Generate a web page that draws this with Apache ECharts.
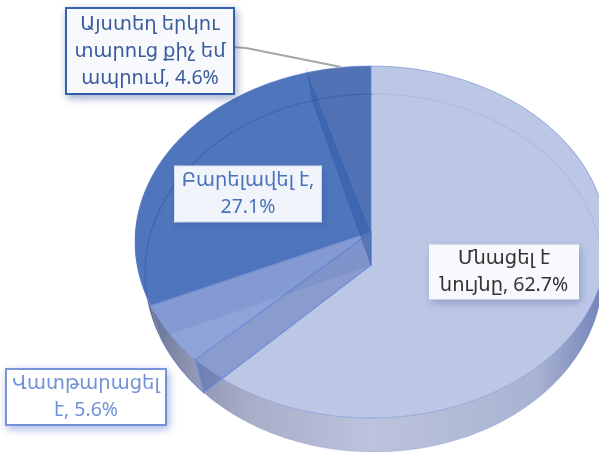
<!DOCTYPE html>
<html>
<head>
<meta charset="utf-8">
<style>
  html, body { margin: 0; padding: 0; background: #fff; }
  #chart { width: 599px; height: 452px; }
</style>
<script src="https://cdn.jsdelivr.net/npm/echarts@6/dist/echarts.min.js"></script>
</head>
<body>
<div id="chart"></div>
<script>
// clockwise from 12 o'clock
const categories = ["Մնացել է\nնույնը", "Վատթարացել\nէ", "Բարելավել է", "Այստեղ երկու\nտարուց քիչ եմ\nապրում"];
const shares = [62.7, 5.6, 27.1, 4.6];
const separators = [", ", ", ", ",\n", ", "];

const sliceColors = ["#bcc7e5", "#8ea3d8", "#4f76bc", "#5173b6"];
const arcColors = ["rgba(90,120,200,0.14)", "rgba(70,100,180,0.5)", "rgba(40,70,140,0.35)", "rgba(40,70,140,0.35)"];
const labelBoxes = [
    { x: 504, y: 272, w: 150, h: 55, color: "#333333", bg: "#f8f9fc", border: "#f8f9fc", bw: 0, shadow: "rgba(60,80,140,0.35)" },
    { x: 86, y: 397, w: 158, h: 54, color: "#7191d8", bg: "#ffffff", border: "#7a98dc", bw: 2, shadow: "rgba(90,120,200,0.45)" },
    { x: 248, y: 194, w: 146, h: 55, color: "#4a72b8", bg: "#f1f4fb", border: "#dfe6f5", bw: 1, shadow: "rgba(40,70,140,0.2)" },
    { x: 150, y: 51, w: 166, h: 84, color: "#3b5c9c", bg: "#f8f9fc", border: "#3563b0", bw: 2, shadow: "rgba(40,70,140,0.4)" }
];

// top face and bottom face of the disc, slightly off each other for the perspective
const top_ = { cx: 371, cy: 242, rx: 236, ry: 176 };
const bottom = { cx: 374, cy: 273, rx: 229, ry: 179 };
const apex = [371, 232];
const apexLow = [371, 265];

function onEllipse(e, t) {
    return [e.cx + e.rx * Math.sin(t), e.cy - e.ry * Math.cos(t)];
}

// fraction of the pie -> angle parameter on the ellipse, along a ray from the apex
function paramOf(frac) {
    if (frac <= 0) return 0;
    if (frac >= 1) return Math.PI * 2;
    const a = frac * Math.PI * 2;
    const dx = Math.sin(a) * top_.rx, dy = -Math.cos(a) * top_.ry;
    const ox = apex[0] - top_.cx, oy = apex[1] - top_.cy;
    const A = (dx * dx) / (top_.rx * top_.rx) + (dy * dy) / (top_.ry * top_.ry);
    const B = 2 * ((ox * dx) / (top_.rx * top_.rx) + (oy * dy) / (top_.ry * top_.ry));
    const C = (ox * ox) / (top_.rx * top_.rx) + (oy * oy) / (top_.ry * top_.ry) - 1;
    const s = (-B + Math.sqrt(B * B - 4 * A * C)) / (2 * A);
    let t = Math.atan2((ox + dx * s) / top_.rx, -(oy + dy * s) / top_.ry);
    if (t < 0) t += Math.PI * 2;
    return t;
}

function arcPoints(e, t0, t1) {
    const pts = [];
    const n = Math.max(2, Math.ceil(Math.abs(t1 - t0) * 60));
    for (let i = 0; i <= n; i++) pts.push(onEllipse(e, t0 + ((t1 - t0) * i) / n));
    return pts;
}

function sliceRange(i) {
    const total = shares.reduce((a, b) => a + b, 0);
    const before = shares.slice(0, i).reduce((a, b) => a + b, 0);
    return [paramOf(before / total), paramOf((before + shares[i]) / total)];
}

const sideFill = new echarts.graphic.LinearGradient(135, 0, 607, 0, [
    { offset: 0, color: "#2e3858" },
    { offset: 0.03, color: "#6d7697" },
    { offset: 0.12, color: "#8f95b2" },
    { offset: 0.25, color: "#a9aec9" },
    { offset: 0.5, color: "#bcc3dc" },
    { offset: 0.85, color: "#a9b3d2" },
    { offset: 1, color: "#6f80b6" }
], true);

function renderSide(params) {
    const [t0, t1] = sliceRange(params.dataIndex);
    return {
        type: "polygon",
        shape: { points: arcPoints(top_, t0, t1).concat(arcPoints(bottom, t1, t0)) },
        style: { fill: sideFill, stroke: null }
    };
}

function renderTop(params) {
    const [t0, t1] = sliceRange(params.dataIndex);
    return {
        type: "polygon",
        shape: { points: [apex].concat(arcPoints(top_, t0, t1)) },
        style: { fill: sliceColors[params.dataIndex], stroke: "rgba(110,140,215,0.55)", lineWidth: 1 }
    };
}

function renderBackArc(params) {
    const [t0, t1] = sliceRange(params.dataIndex);
    return {
        type: "polyline",
        shape: { points: arcPoints(bottom, t0, t1) },
        style: { fill: null, stroke: arcColors[params.dataIndex], lineWidth: 1.2 }
    };
}

// see-through cut walls at the end of each slice
const wallFills = ["rgba(70,95,175,0.42)", "rgba(60,90,170,0.12)", "rgba(45,85,165,0.45)", null];
const wallLines = ["#6f8fdb", "rgba(0,0,0,0)", "rgba(45,85,165,0.3)", null];

function renderWall(params) {
    const fill = wallFills[params.dataIndex];
    if (!fill) return;
    const t = sliceRange(params.dataIndex)[1];
    return {
        type: "polygon",
        shape: { points: [apex, onEllipse(top_, t), onEllipse(bottom, t), apexLow] },
        style: { fill: fill, stroke: wallLines[params.dataIndex], lineWidth: 1.2 }
    };
}

function renderLabel(params) {
    const i = params.dataIndex;
    const b = labelBoxes[i];
    return {
        type: "text",
        style: {
            x: b.x,
            y: b.y,
            text: categories[i] + separators[i] + shares[i] + "%",
            align: "center",
            verticalAlign: "middle",
            width: b.w - 8,
            height: b.h - 4,
            padding: [2, 4],
            lineHeight: 27,
            fontSize: 19.5,
            fontFamily: "'Noto Sans', 'DejaVu Sans', sans-serif",
            fill: b.color,
            backgroundColor: b.bg,
            borderColor: b.border,
            borderWidth: b.bw,
            shadowColor: b.shadow,
            shadowBlur: 8,
            shadowOffsetX: 2,
            shadowOffsetY: 3
        }
    };
}

function layer(name, z, fn) {
    return { type: "custom", name: name, coordinateSystem: "none", z: z, silent: true, data: shares, renderItem: fn };
}

const chart = echarts.init(document.getElementById("chart"));
chart.setOption({
    animation: false,
    backgroundColor: "#ffffff",
    tooltip: { show: false },
    series: [
        layer("side", 1, renderSide),
        layer("top", 2, renderTop),
        layer("wall", 3, renderWall),
        layer("arc", 4, renderBackArc),
        {
            type: "custom",
            name: "leader",
            coordinateSystem: "none",
            z: 5,
            silent: true,
            data: [0],
            renderItem: function () {
                return {
                    type: "polyline",
                    shape: { points: [[233, 47], [246, 48], [341, 67]] },
                    style: { fill: null, stroke: "#a6a6a6", lineWidth: 2 }
                };
            }
        },
        layer("label", 6, renderLabel)
    ]
});
</script>
</body>
</html>
